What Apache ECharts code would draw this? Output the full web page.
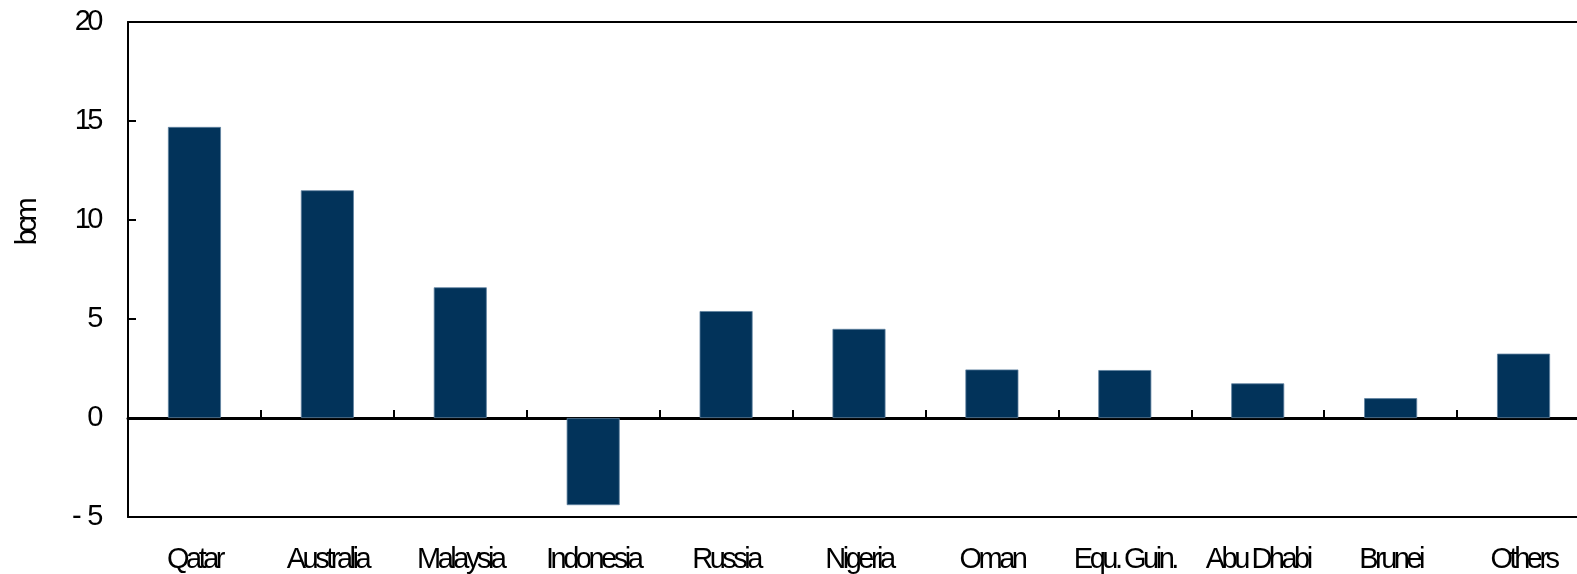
<!DOCTYPE html>
<html>
<head>
<meta charset="utf-8">
<script src="https://cdn.jsdelivr.net/npm/echarts@6/dist/echarts.min.js"></script>
<style>
html,body{margin:0;padding:0;background:#fff;}
#c{width:1577px;height:574px;}
</style>
</head>
<body>
<div id="c"></div>
<script>
const categories = ['Qatar','Australia','Malaysia','Indonesia','Russia','Nigeria','Oman','Equ. Guin.','Abu Dhabi','Brunei','Others'];
const values = [14.7, 11.5, 6.6, -4.4, 5.4, 4.5, 2.45, 2.42, 1.75, 1.0, 3.25];
const yTicks = [-5, 0, 5, 10, 15, 20];
const yLabels = ['-  5', '0', '5', '10', '15', '20'];
const unitLabel = 'bcm';

// the reference uses tightly condensed lettering: apply a negative letter spacing to drawn text
(function(){
  const P = CanvasRenderingContext2D.prototype;
  const orig = P.fillText;
  P.fillText = function(t, x, y, w){
    if ('letterSpacing' in this) this.letterSpacing = '-3.5px';
    return w === undefined ? orig.call(this, t, x, y) : orig.call(this, t, x, y, w);
  };
})();

const FONT = '"Liberation Sans", Arial, sans-serif';
const chart = echarts.init(document.getElementById('c'), null, {renderer:'canvas'});

chart.setOption({
  animation:false,
  backgroundColor:'#ffffff',
  grid:{left:128, right:-13, top:22, bottom:57, containLabel:false, outerBoundsMode:'none'},
  graphic:[{
    type:'text', x:28, y:223, rotation:Math.PI/2,
    style:{text:unitLabel, font:'29px ' + FONT, fill:'#000', align:'center', verticalAlign:'middle'}
  }],
  xAxis:[{
    type:'category', data:categories, position:'bottom',
    axisLine:{onZero:false, lineStyle:{color:'#000', width:2}},
    axisTick:{show:false},
    axisLabel:{color:'#000', fontFamily:FONT, fontSize:29, margin:28, interval:0,
      hideOverlap:false, overflow:'none', width:300}
  },{
    type:'category', data:categories, position:'bottom',
    axisLine:{onZero:true, onZeroAxisIndex:0, lineStyle:{color:'#000', width:3}},
    axisTick:{show:true, inside:true, length:8, lineStyle:{color:'#000', width:2}},
    axisLabel:{show:false}
  },{
    type:'category', data:categories, position:'top',
    axisLine:{onZero:false, lineStyle:{color:'#000', width:2}},
    axisTick:{show:false}, axisLabel:{show:false}
  }],
  yAxis:{
    type:'value', min:yTicks[0], max:yTicks[yTicks.length-1], interval:5,
    axisLine:{show:true, lineStyle:{color:'#000', width:2}},
    axisTick:{show:true, inside:true, length:8, lineStyle:{color:'#000', width:2}},
    splitLine:{show:false},
    axisLabel:{color:'#000', fontFamily:FONT, fontSize:29, margin:28,
      formatter:function(v){ const i = yTicks.indexOf(v); return i>=0 ? yLabels[i] : ''; }}
  },
  series:[{
    type:'bar', data:values, xAxisIndex:1, barWidth:53,
    itemStyle:{color:'#02335a', borderColor:'#5f81a0', borderWidth:0.8}
  }]
});
</script>
</body>
</html>
